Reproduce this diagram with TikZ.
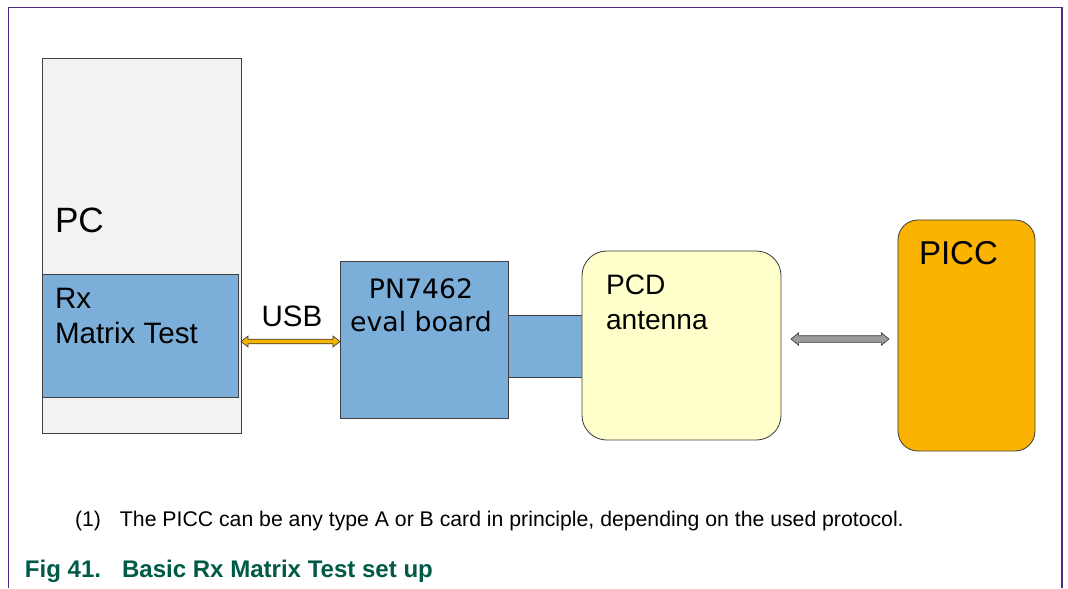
\documentclass[tikz,border=0pt]{standalone}
\usepackage{fontspec}
\setmainfont{Liberation Sans}
\newfontfamily\dejavu{DejaVu Sans}
\usepackage{xcolor}
\usepackage{tikz}
\usetikzlibrary{positioning,calc}

\definecolor{pcgray}{HTML}{F2F2F2}
\definecolor{boardblue}{HTML}{7BAFDA}
\definecolor{antyellow}{HTML}{FFFFCC}
\definecolor{piccorange}{HTML}{F9B300}
\definecolor{usborange}{HTML}{F5B400}
\definecolor{rfgray}{HTML}{9C9C9C}
\definecolor{edgegray}{HTML}{3F3F3F}
\definecolor{framepurple}{HTML}{4E2A84}
\definecolor{capgreen}{HTML}{005A46}

\begin{document}
\begin{tikzpicture}[x=0.025cm, y=-0.025cm,
    box/.style={draw=edgegray, line width=0.6pt, inner sep=0pt, outer sep=0pt},
    label/.style={inner sep=0pt, outer sep=0pt, text=black},
    bigtext/.style={label, font=\fontsize{21}{25}\selectfont, align=left},
    blockarrow/.style={draw=edgegray, line width=0.5pt, line join=miter}]
    \useasboundingbox (0,0) rectangle (1068,588);
    \draw[framepurple, line width=1.1pt] (8.5,588) -- (8.5,7.5) -- (1062,7.5) -- (1062,588);

    % boxes
    \node (pc) [box, fill=pcgray, minimum width=4.975cm, minimum height=9.375cm] at (141.5,245.5) {};
    \node (rx) [box, fill=boardblue, minimum width=4.9cm, minimum height=3.075cm] at (140,335.5) {};
    \node (board) [box, fill=boardblue, minimum width=4.2cm, minimum height=3.925cm] at (424,339.5) {};
    \node (link) [box, fill=boardblue, minimum width=1.85cm, minimum height=1.55cm] at (545,346) {};
    \node (antenna) [box, fill=antyellow, rounded corners=0.62cm, minimum width=4.975cm, minimum height=4.725cm] at (681.5,345.5) {};
    \node (picc) [box, fill=piccorange, rounded corners=0.5cm, minimum width=3.425cm, minimum height=5.775cm] at (966.5,335.5) {};

    % texts
    \node (pctext) [label, font=\fontsize{25}{29}\selectfont, anchor=base west] at (55,232) {PC};
    \node (rxtext) [bigtext, anchor=north west] at (55,288) {Rx\\Matrix Test};
    \node (usb) [label, font=\fontsize{21}{25}\selectfont, anchor=base west] at (261.5,326) {USB};
    \node (boardtext) [label, font=\dejavu\fontsize{19}{23.7}\selectfont, align=center, anchor=north] at (421,278.5) {PN7462\\eval board};
    \node (anttext) [bigtext, font=\fontsize{20}{25}\selectfont, anchor=north west] at (606,275) {PCD\\antenna};
    \node (picctext) [label, font=\fontsize{23.5}{27}\selectfont, anchor=base west] at (919,264) {PICC};

    % connectors
    \draw[blockarrow, fill=usborange] ($(pc.east |- board.west)+(0,2)$) -- ++(7,-5.5) -- ++(0,3.2)
        -- ($(board.west)+(-7,-0.3)$) -- ++(0,-3.2) -- ($(board.west)+(0,2)$) -- ++(-7,5.5) -- ++(0,-3.2)
        -- ($(pc.east |- board.west)+(7,4.3)$) -- ++(0,3.2) -- cycle;
    \draw[blockarrow, fill=rfgray] ($(antenna.east)+(10,-6.5)$) -- ++(7.6,-6.2) -- ++(0,2.9)
        -- ($(picc.west)+(-16.6,0.2)$) -- ++(0,-2.9) -- ($(picc.west)+(-9,3.5)$) -- ++(-7.6,6.2) -- ++(0,-2.9)
        -- ($(antenna.east)+(17.6,-3.2)$) -- ++(0,2.9) -- cycle;

    % note and caption
    \node (note) [label, font=\fontsize{15.1}{18}\selectfont, anchor=base west] at (75,526)
        {\makebox[1.125cm][l]{(1)}The PICC can be any type A or B card in principle, depending on the used protocol.};
    \node (caption) [label, text=capgreen, font=\bfseries\fontsize{17.1}{20}\selectfont, anchor=base west] at (25,577)
        {\makebox[2.425cm][l]{Fig 41.}Basic Rx Matrix Test set up};
\end{tikzpicture}
\end{document}
